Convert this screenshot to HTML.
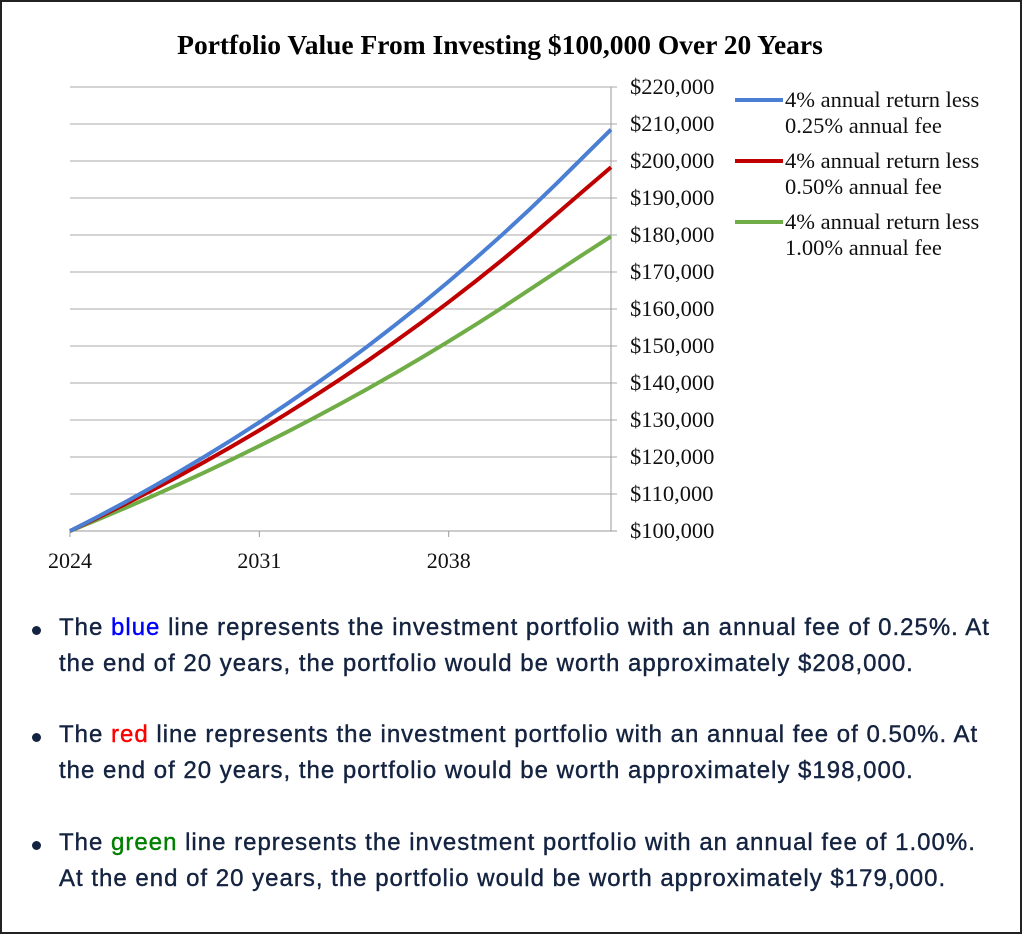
<!DOCTYPE html>
<html><head><meta charset="utf-8"><style>
html,body{margin:0;padding:0;background:#fff}
body{width:1022px;height:934px;position:relative;overflow:hidden}
#frame{position:absolute;left:0;top:0;width:1018px;height:930px;border:2px solid #222}
.b{position:absolute;left:0;font-family:"Liberation Sans",sans-serif;font-size:24px;letter-spacing:1px;color:#142340;white-space:nowrap;-webkit-text-stroke:0.4px currentColor}
.dot{position:absolute;left:32px;width:9px;height:9px;border-radius:50%;background:#142340}
</style></head><body>
<div id="frame"></div>
<svg id="chart" width="1022" height="600" style="position:absolute;left:0;top:0" font-family="Liberation Serif, serif">
<text x="500" y="54" text-anchor="middle" font-size="27.5" font-weight="bold">Portfolio Value From Investing $100,000 Over 20 Years</text>
<g id="grid"></g><g id="series"></g><g id="legend"></g>
</svg>
<div class="dot" style="top:626px"></div>
<div class="b" style="left:59px;top:614px">The <span style="color:#0000ff">blue</span> line represents the investment portfolio with an annual fee of 0.25%. At</div>
<div class="b" style="left:59px;top:650px">the end of 20 years, the portfolio would be worth approximately $208,000.</div>
<div class="dot" style="top:733px"></div>
<div class="b" style="left:59px;top:721px">The <span style="color:#ff0000">red</span> line represents the investment portfolio with an annual fee of 0.50%. At</div>
<div class="b" style="left:59px;top:757px">the end of 20 years, the portfolio would be worth approximately $198,000.</div>
<div class="dot" style="top:841px"></div>
<div class="b" style="left:59px;top:829px">The <span style="color:#008000">green</span> line represents the investment portfolio with an annual fee of 1.00%.</div>
<div class="b" style="left:59px;top:865px">At the end of 20 years, the portfolio would be worth approximately $179,000.</div>
<script>
const years=[2024,2025,2026,2027,2028,2029,2030,2031,2032,2033,2034,2035,2036,2037,2038,2039,2040,2041,2042,2043,2044];
const xTickLabels=["2024","2031","2038"];
const yTicks=[100000,110000,120000,130000,140000,150000,160000,170000,180000,190000,200000,210000,220000];
const blueVals=[100000,103750,107640,111680,115870,120210,124720,129390,134250,139280,144500,149920,155550,161380,167430,173710,180220,186980,193990,201270,208500];
const redVals=[100000,103500,107120,110870,114750,118770,122930,127230,131680,136290,141060,146000,151110,156400,161870,167530,173400,179470,185750,192050,198300];
const greenVals=[100000,103000,106090,109270,112550,115930,119410,122990,126680,130480,134390,138420,142580,146850,151260,155800,160470,165280,170100,174900,179600];
const legendLabels=[["4% annual return less","0.25% annual fee"],["4% annual return less","0.50% annual fee"],["4% annual return less","1.00% annual fee"]];
const NS="http://www.w3.org/2000/svg";
const x=v=>70+(v-2024)*(611-70)/20;
const y=v=>531-(v-100000)*(531-87)/120000;
function mk(t,a,p){const e=document.createElementNS(NS,t);for(const k in a)e.setAttribute(k,a[k]);p.appendChild(e);return e;}
const grid=document.getElementById('grid');
yTicks.forEach(v=>{
 const l=mk('line',{x1:70,x2:617,y1:y(v),y2:y(v),stroke:v===100000?'#9a9a9a':'#a8a8a8','stroke-width':1},grid);
 
 
 const t=mk('text',{x:630,y:y(v)+7,'font-size':22.5,fill:'#111'},grid);
 t.textContent='$'+v.toLocaleString('en-US');
 
 
});
const ax=mk('line',{x1:611,x2:611,y1:y(220000),y2:y(100000),stroke:'#9a9a9a'},grid);


xTickLabels.forEach(s=>{
 const xv=x(+s);
 const tk=mk('line',{x1:xv,x2:xv,y1:531,y2:537,stroke:'#9a9a9a'},grid);
 
 
 const t=mk('text',{x:xv,y:568,'font-size':22,'text-anchor':'middle',fill:'#111'},grid);
 t.textContent=s;
 
 
});
const ser=document.getElementById('series');
const cols=['#4a7fd4','#c00000','#70ad47'];
const names=['blue-series-line','red-series-line','green-series-line'];
[greenVals,redVals,blueVals].forEach((vals,i)=>{
 const idx=2-i;
 const p=mk('polyline',{points:vals.map((v,j)=>x(years[j])+','+y(v)).join(' '),fill:'none',stroke:cols[idx],'stroke-width':4,'stroke-linejoin':'round'},ser);
 
 
});
const leg=document.getElementById('legend');
legendLabels.forEach((lab,i)=>{
 const ly=100+i*61;
 const l=mk('line',{x1:735,x2:783,y1:ly,y2:ly,stroke:cols[i],'stroke-width':4},leg);
 
 
 lab.forEach((s,k)=>{
  const t=mk('text',{x:785,y:ly+7+k*26,'font-size':22.5,fill:'#111'},leg);
  t.textContent=s;
  
  
 });
});
</script>
</body></html>
